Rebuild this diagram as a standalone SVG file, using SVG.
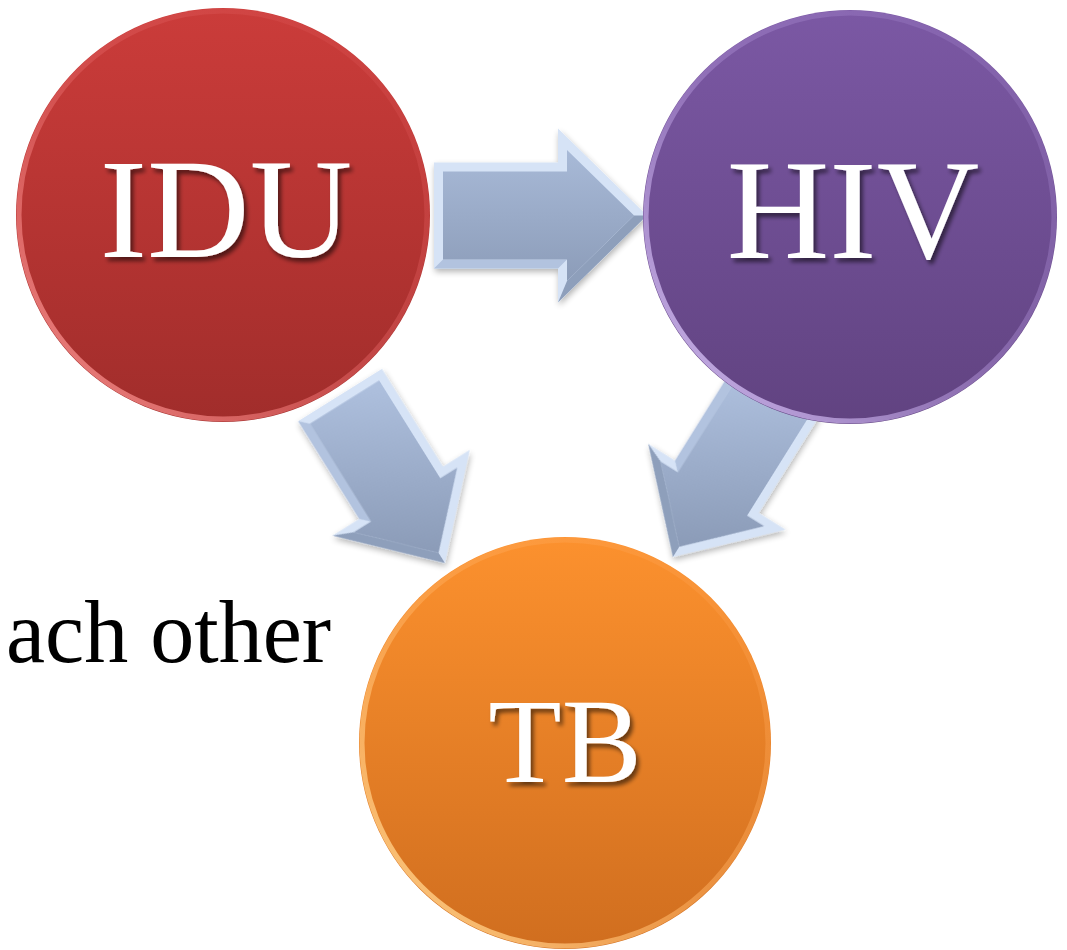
<svg xmlns="http://www.w3.org/2000/svg" xmlns:xlink="http://www.w3.org/1999/xlink" width="1067" height="950" viewBox="0 0 1067 950">
  <style>
    .label { font-family: "Liberation Serif", "DejaVu Serif", serif; fill: #ffffff; text-anchor: middle; filter: url(#textShadow); }
    .body { font-family: "Liberation Serif", "DejaVu Serif", serif; fill: #000000; }
    .bevelLight { fill: #d6e3f6; }
    .bevelMid { fill: #b2c3df; }
    .bevelDark { fill: #8e9fbb; }
    .rim { fill: none; stroke-width: 5; }
  </style>
  <defs>
    <!-- arrow body shading, kept vertical on screen for each orientation -->
    <linearGradient id="arrowFillH" x1="0" y1="-90" x2="0" y2="90" gradientUnits="userSpaceOnUse">
      <stop offset="0" stop-color="#adbfdd"/>
      <stop offset="1" stop-color="#8797b3"/>
    </linearGradient>
    <linearGradient id="arrowFillL" x1="-191" y1="-53" x2="-21" y2="53" gradientUnits="userSpaceOnUse">
      <stop offset="0" stop-color="#adbfdd"/>
      <stop offset="1" stop-color="#8797b3"/>
    </linearGradient>
    <linearGradient id="arrowFillR" x1="-191" y1="53" x2="-21" y2="-53" gradientUnits="userSpaceOnUse">
      <stop offset="0" stop-color="#adbfdd"/>
      <stop offset="1" stop-color="#8797b3"/>
    </linearGradient>

    <!-- disc fills -->
    <linearGradient id="redFill" x1="0" y1="0" x2="0" y2="1">
      <stop offset="0" stop-color="#cb3c3a"/>
      <stop offset="1" stop-color="#a12d2b"/>
    </linearGradient>
    <linearGradient id="purpleFill" x1="0" y1="0" x2="0" y2="1">
      <stop offset="0" stop-color="#7b58a4"/>
      <stop offset="1" stop-color="#614381"/>
    </linearGradient>
    <linearGradient id="orangeFill" x1="0" y1="0" x2="0" y2="1">
      <stop offset="0" stop-color="#fc912e"/>
      <stop offset="1" stop-color="#d06e1f"/>
    </linearGradient>

    <!-- rim highlights, brightest on the lower left -->
    <linearGradient id="redRim" x1="0" y1="1" x2="1" y2="0">
      <stop offset="0" stop-color="#f4908d" stop-opacity="1"/>
      <stop offset="0.5" stop-color="#e06060" stop-opacity="0.5"/>
      <stop offset="1" stop-color="#d85050" stop-opacity="0.2"/>
    </linearGradient>
    <linearGradient id="purpleRim" x1="0" y1="1" x2="1" y2="0">
      <stop offset="0" stop-color="#d7c3f5" stop-opacity="1"/>
      <stop offset="0.5" stop-color="#a98ad0" stop-opacity="0.5"/>
      <stop offset="1" stop-color="#9a7cc4" stop-opacity="0.25"/>
    </linearGradient>
    <linearGradient id="orangeRim" x1="0" y1="1" x2="1" y2="0">
      <stop offset="0" stop-color="#ffd58e" stop-opacity="1"/>
      <stop offset="0.5" stop-color="#ffb060" stop-opacity="0.5"/>
      <stop offset="1" stop-color="#ffa050" stop-opacity="0.2"/>
    </linearGradient>

    <filter id="textShadow" x="-10%" y="-10%" width="130%" height="140%">
      <feGaussianBlur in="SourceAlpha" stdDeviation="2"/>
      <feOffset dx="3" dy="4" result="off"/>
      <feComponentTransfer><feFuncA type="linear" slope="0.55"/></feComponentTransfer>
      <feMerge><feMergeNode/><feMergeNode in="SourceGraphic"/></feMerge>
    </filter>
    <filter id="softShadow" x="-20%" y="-20%" width="140%" height="140%">
      <feGaussianBlur in="SourceAlpha" stdDeviation="3"/>
      <feOffset dx="1" dy="3"/>
      <feComponentTransfer><feFuncA type="linear" slope="0.3"/></feComponentTransfer>
      <feMerge><feMergeNode/><feMergeNode in="SourceGraphic"/></feMerge>
    </filter>

    <!-- block arrow pointing right, tip at the origin, with bevelled edges;
         the body takes its fill from the referencing element -->
    <g id="blockArrow">
      <polygon class="bevelLight" points="-213,-53 -89,-53 -89,-87 0,0 -89,87 -89,53 -213,53"/>
      <polygon class="bevelDark" points="0,0 -89,87 -80,65.6 -12.9,0"/>
      <polygon class="bevelMid" points="-89,53 -213,53 -204,44 -80,44"/>
      <polygon points="-204,-44 -80,-44 -80,-65.6 -12.9,0 -80,65.6 -80,44 -204,44"/>
    </g>
  </defs>

  <rect width="1067" height="950" fill="#ffffff"/>

  <text class="body" x="331" y="662" font-size="88" text-anchor="end">ach other</text>

  <g id="connectors" filter="url(#softShadow)">
    <use xlink:href="#blockArrow" fill="url(#arrowFillH)" transform="translate(647,215.5)"/>
    <use xlink:href="#blockArrow" fill="url(#arrowFillL)" transform="translate(445,563) rotate(58) scale(0.93)"/>
    <use xlink:href="#blockArrow" fill="url(#arrowFillR)" transform="translate(673,557) rotate(122) scale(0.93)"/>
  </g>

  <g id="node-idu">
    <circle cx="223" cy="215" r="207" fill="url(#redFill)"/>
    <circle class="rim" cx="223" cy="215" r="204" stroke="url(#redRim)"/>
    <text class="label" x="226" y="257" font-size="142">IDU</text>
  </g>

  <g id="node-hiv">
    <circle cx="850" cy="217" r="207" fill="url(#purpleFill)"/>
    <circle class="rim" cx="850" cy="217" r="204" stroke="url(#purpleRim)"/>
    <text class="label" x="853" y="258" font-size="142">HIV</text>
  </g>

  <g id="node-tb">
    <circle cx="565" cy="743" r="206" fill="url(#orangeFill)"/>
    <circle class="rim" cx="565" cy="743" r="203" stroke="url(#orangeRim)"/>
    <text class="label" x="565" y="782" font-size="120">TB</text>
  </g>
</svg>
